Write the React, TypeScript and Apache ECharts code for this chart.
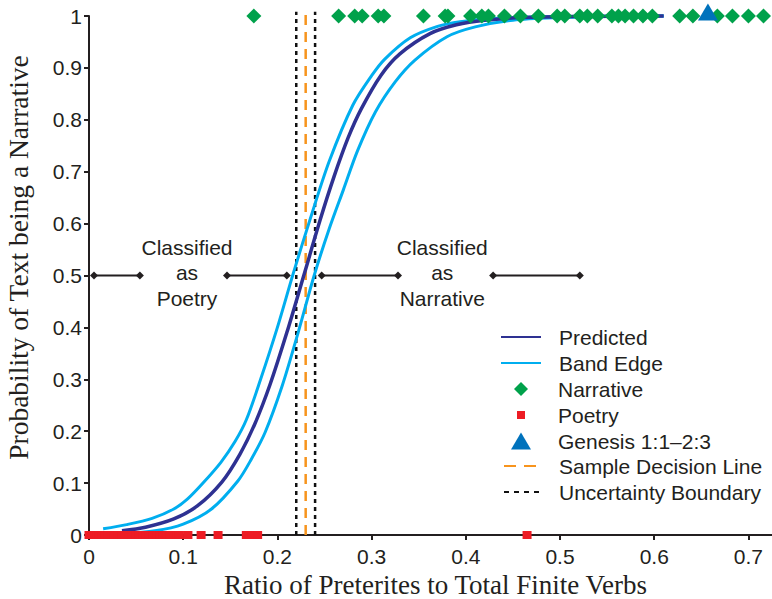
import React, { useEffect, useRef } from "react";
import * as echarts from "echarts";

// ---- data ----
const predictedCurve: [number, number][] = [
  [0.035, 0.008], [0.06, 0.015], [0.09, 0.031], [0.115, 0.056], [0.141, 0.102],
  [0.16, 0.155], [0.176, 0.214], [0.192, 0.289], [0.21, 0.39], [0.228, 0.5],
  [0.245, 0.605], [0.26, 0.69], [0.275, 0.765], [0.289, 0.821], [0.31, 0.886],
  [0.33, 0.927], [0.362, 0.966], [0.39, 0.983], [0.42, 0.992], [0.46, 0.997],
  [0.52, 0.999], [0.61, 1.0],
];
const upperBand: [number, number][] = [
  [0.015, 0.012], [0.04, 0.02], [0.067, 0.032], [0.09, 0.05], [0.105, 0.07],
  [0.121, 0.1], [0.14, 0.14], [0.155, 0.18], [0.167, 0.222], [0.182, 0.299],
  [0.2, 0.4], [0.217, 0.505], [0.235, 0.61], [0.255, 0.72], [0.28, 0.828],
  [0.3, 0.885], [0.314, 0.917], [0.341, 0.958], [0.37, 0.98], [0.394, 0.989],
  [0.43, 0.995], [0.5, 0.999], [0.61, 1.0],
];
const lowerBand: [number, number][] = [
  [0.035, 0.003], [0.07, 0.008], [0.1, 0.021], [0.13, 0.05], [0.158, 0.104],
  [0.172, 0.145], [0.187, 0.198], [0.205, 0.287], [0.222, 0.39], [0.239, 0.5],
  [0.255, 0.59], [0.27, 0.665], [0.285, 0.74], [0.304, 0.815], [0.325, 0.873],
  [0.346, 0.915], [0.38, 0.96], [0.41, 0.979], [0.45, 0.992], [0.5, 0.997],
  [0.55, 0.999], [0.61, 1.0],
];
const narrativeX: number[] = [
  0.175, 0.265, 0.282, 0.29, 0.307, 0.313, 0.355, 0.378, 0.381, 0.405, 0.417,
  0.424, 0.441, 0.458, 0.477, 0.497, 0.505, 0.521, 0.529, 0.54, 0.555, 0.562,
  0.569, 0.578, 0.588, 0.598, 0.627, 0.641, 0.667, 0.683, 0.7, 0.716,
];
const poetryX: number[] = [
  0, 0.003, 0.006, 0.008, 0.011, 0.014, 0.017, 0.02, 0.024, 0.027, 0.031, 0.035,
  0.038, 0.042, 0.046, 0.05, 0.053, 0.057, 0.061, 0.064, 0.068, 0.072, 0.075,
  0.079, 0.083, 0.086, 0.09, 0.093, 0.096, 0.105, 0.119, 0.137, 0.167, 0.173,
  0.179, 0.465,
];
const genesisPoint: [number, number] = [0.657, 1];
const decisionX = 0.23;
const uncertaintyX: number[] = [0.22, 0.24];
const arrowSegments: [number, number][] = [
  [0.0053, 0.054], [0.1465, 0.21], [0.247, 0.328], [0.429, 0.521],
];
const regionLabels: { x: number; text: string }[] = [
  { x: 0.104, text: "Classified\nas\nPoetry" },
  { x: 0.375, text: "Classified\nas\nNarrative" },
];
const xTickValues: number[] = [0, 0.1, 0.2, 0.3, 0.4, 0.5, 0.6, 0.7];

const INK = "#231f20";
const SANS = "Liberation Sans, Arial, sans-serif";
const NARROW = "Liberation Sans Narrow, Arial Narrow, sans-serif";
const SERIF = "Liberation Serif, Times New Roman, serif";

function legendRow(name: string, left: number, center: number, w: number, h: number, extra: any = {}) {
  return {
    data: [name],
    left,
    top: center - 10.5,
    orient: "vertical",
    padding: 0,
    itemWidth: w,
    itemHeight: h,
    selectedMode: false,
    textStyle: {
      fontFamily: SANS,
      fontSize: 21,
      color: INK,
      padding: [0, 0, 0, 558 - (left + w + 5)],
    },
    ...extra,
  };
}

export default function App() {
  const ref = useRef<HTMLDivElement>(null);
  useEffect(() => {
    if (!ref.current) return;
    const chart = echarts.init(ref.current, undefined, { renderer: "svg" });

    const series: any[] = [];
    uncertaintyX.forEach((x) => {
      series.push({
        name: "Uncertainty Boundary",
        type: "line",
        data: [[x, 0], [x, 1.008]],
        symbol: "none",
        clip: false,
        lineStyle: { color: "#111", width: 2.5, type: [4, 4] },
        itemStyle: { color: "transparent" },
        z: 1,
      });
    });
    series.push({
      name: "Sample Decision Line",
      type: "line",
      data: [[decisionX, 0], [decisionX, 1.008]],
      symbol: "none",
      clip: false,
      lineStyle: { color: "#f7941d", width: 2.5, type: [10, 7] },
      itemStyle: { color: "transparent" },
      z: 1,
    });
    [upperBand, lowerBand].forEach((band) => {
      series.push({
        name: "Band Edge",
        type: "line",
        data: band,
        symbol: "none",
        smooth: 0.3,
        clip: false,
        lineStyle: { color: "#00aeef", width: 3 },
        itemStyle: { color: "transparent" },
        z: 2,
      });
    });
    series.push({
      name: "Predicted",
      type: "line",
      data: predictedCurve,
      symbol: "none",
      smooth: 0.3,
      clip: false,
      lineStyle: { color: "#2e3192", width: 3.5 },
      itemStyle: { color: "transparent" },
      z: 3,
    });
    arrowSegments.forEach((seg, i) => {
      series.push({
        name: "arrow" + i,
        type: "line",
        data: [[seg[0], 0.5], [seg[1], 0.5]],
        symbol: "diamond",
        symbolSize: 8,
        showSymbol: true,
        lineStyle: { color: INK, width: 1.8 },
        itemStyle: { color: INK },
        z: 4,
      });
    });
    series.push({
      name: "regionText",
      type: "scatter",
      symbolSize: 0,
      itemStyle: { opacity: 1 },
      data: regionLabels.map((r) => ({
        value: [r.x, 0.5],
        label: {
          show: true,
          position: "inside",
          offset: [0, -3],
          formatter: r.text,
          fontFamily: SANS,
          fontSize: 21,
          lineHeight: 25.5,
          color: INK,
          opacity: 1,
        },
      })),
      z: 4,
    });
    series.push({
      name: "Poetry",
      type: "scatter",
      symbol: "rect",
      symbolSize: [9, 8],
      data: poetryX.map((x) => [x, 0]),
      itemStyle: { color: "#ed1c24", opacity: 1 },
      clip: false,
      z: 5,
    });
    series.push({
      name: "Narrative",
      type: "scatter",
      symbol: "diamond",
      symbolSize: 15,
      data: narrativeX.map((x) => [x, 1]),
      itemStyle: { color: "#00a14b", opacity: 1 },
      clip: false,
      z: 5,
    });
    series.push({
      name: "Genesis 1:1\u20132:3",
      type: "scatter",
      symbol: "triangle",
      symbolSize: [20, 17],
      symbolOffset: [0, -4],
      data: [genesisPoint],
      itemStyle: { color: "#0072bc", opacity: 1 },
      clip: false,
      z: 6,
    });

    const hideDot = { itemStyle: { opacity: 0 } };

    chart.setOption({
      animation: false,
      grid: { left: 89, top: 16, right: 0, bottom: 64, containLabel: false, outerBoundsMode: "none" },
      xAxis: {
        type: "value",
        min: 0,
        max: 0.725,
        interval: 0.1,
        name: "Ratio of Preterites to Total Finite Verbs",
        nameLocation: "middle",
        nameGap: 31,
        nameTextStyle: { fontFamily: SERIF, fontSize: 27, color: INK, padding: [0, 0, 0, 10] },
        axisLine: { show: true, onZero: false, lineStyle: { color: INK, width: 2 } },
        axisTick: { show: true, length: 5, customValues: xTickValues, lineStyle: { color: INK, width: 2 } },
        axisLabel: {
          fontFamily: NARROW, fontSize: 21, color: INK, margin: 11,
          customValues: xTickValues,
        },
        splitLine: { show: false },
      },
      yAxis: {
        type: "value",
        min: 0,
        max: 1,
        interval: 0.1,
        name: "Probability of Text being a Narrative",
        nameLocation: "middle",
        nameGap: 57,
        nameTextStyle: { fontFamily: SERIF, fontSize: 27.5, color: INK, padding: [0, 0, 0, 36] },
        axisLine: { show: true, lineStyle: { color: INK, width: 2 } },
        axisTick: { show: true, length: 5, lineStyle: { color: INK, width: 2 } },
        axisLabel: { fontFamily: NARROW, fontSize: 21, color: INK, margin: 7 },
        splitLine: { show: false },
      },
      legend: [
        legendRow("Predicted", 500, 337, 40, 14, hideDot),
        legendRow("Band Edge", 500, 363, 40, 14, hideDot),
        legendRow("Narrative", 514, 389, 14, 14),
        legendRow("Poetry", 517, 415, 8, 8),
        legendRow("Genesis 1:1\u20132:3", 511, 441, 20, 17),
        legendRow("Sample Decision Line", 503, 466, 32, 14, { ...hideDot, lineStyle: { type: [12, 8] } }),
        legendRow("Uncertainty Boundary", 503, 492, 35, 14, { ...hideDot, lineStyle: { type: [5, 5] } }),
      ],
      series,
    });
    return () => chart.dispose();
  }, []);
  return (
    <div
      ref={ref}
      style={{ position: "fixed", left: 0, top: 0, width: 772, height: 599, background: "#fff" }}
    />
  );
}
